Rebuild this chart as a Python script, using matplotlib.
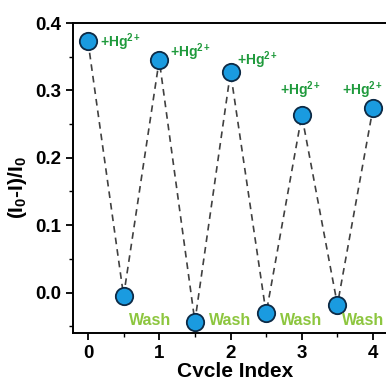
import matplotlib
matplotlib.use('Agg')
import matplotlib.pyplot as plt
from matplotlib.ticker import MultipleLocator

plt.rcParams['font.family'] = ['Liberation Sans', 'DejaVu Sans']
plt.rcParams['font.weight'] = 'bold'
plt.rcParams['mathtext.fontset'] = 'custom'
plt.rcParams['mathtext.rm'] = 'Liberation Sans:bold'
plt.rcParams['mathtext.it'] = 'Liberation Sans:bold'
plt.rcParams['mathtext.bf'] = 'Liberation Sans:bold'

# data
cycle = [0, 0.5, 1, 1.5, 2, 2.5, 3, 3.5, 4]
ratio = [0.373, -0.005, 0.345, -0.043, 0.327, -0.031, 0.263, -0.018, 0.274]
hg_x = [0.17, 1.15, 2.09, 2.69, 3.56]
hg_y = [0.372, 0.357, 0.345, 0.30, 0.30]
wash_x = [0.57, 1.70, 2.69, 3.56]
wash_y = [-0.042, -0.042, -0.042, -0.042]

fig = plt.figure(figsize=(3.86, 3.77), dpi=100)
ax = fig.add_axes([73/386, 1 - 333/377, 325/386, 310/377])

ax.plot(cycle, ratio, '--', color='#404040', lw=1.2, dashes=(4, 3), zorder=1)
ax.plot(cycle, ratio, 'o', ms=12.5, mfc='#1a9be0', mec='#0d2a45', mew=1.3,
        ls='none', zorder=2)

for x, y in zip(hg_x, hg_y):
    ax.text(x, y, '+Hg$^{2+}$', color='#1f9a3c', fontsize=10,
            fontweight='bold', va='center', ha='left')
for x, y in zip(wash_x, wash_y):
    ax.text(x, y, 'Wash', color='#8dc63f', fontsize=11.5,
            fontweight='bold', va='center', ha='left')

ax.set_xlim(-0.21, 4.35)
ax.set_ylim(-0.06, 0.4)
ax.xaxis.set_major_locator(MultipleLocator(1))
ax.xaxis.set_minor_locator(MultipleLocator(0.5))
ax.yaxis.set_minor_locator(MultipleLocator(0.05))
ax.set_yticks([0.0, 0.1, 0.2, 0.3, 0.4])
ax.yaxis.set_major_formatter(plt.FuncFormatter(lambda v, p: '%.1f' % v))
ax.tick_params(which='major', direction='out', length=5, width=1.3,
               labelsize=13.5)
ax.tick_params(which='minor', direction='out', length=3, width=1.0)
ax.spines['right'].set_visible(False)
for s in ['left', 'bottom', 'top']:
    ax.spines[s].set_linewidth(1.4)

ax.set_xlabel('Cycle Index', fontsize=15, fontweight='bold', labelpad=0)
ax.set_ylabel('(I$_0$-I)/I$_0$', fontsize=15, fontweight='bold')
ax.yaxis.set_label_coords(-0.135, 0.47)

fig.savefig('out.png', dpi=100)
